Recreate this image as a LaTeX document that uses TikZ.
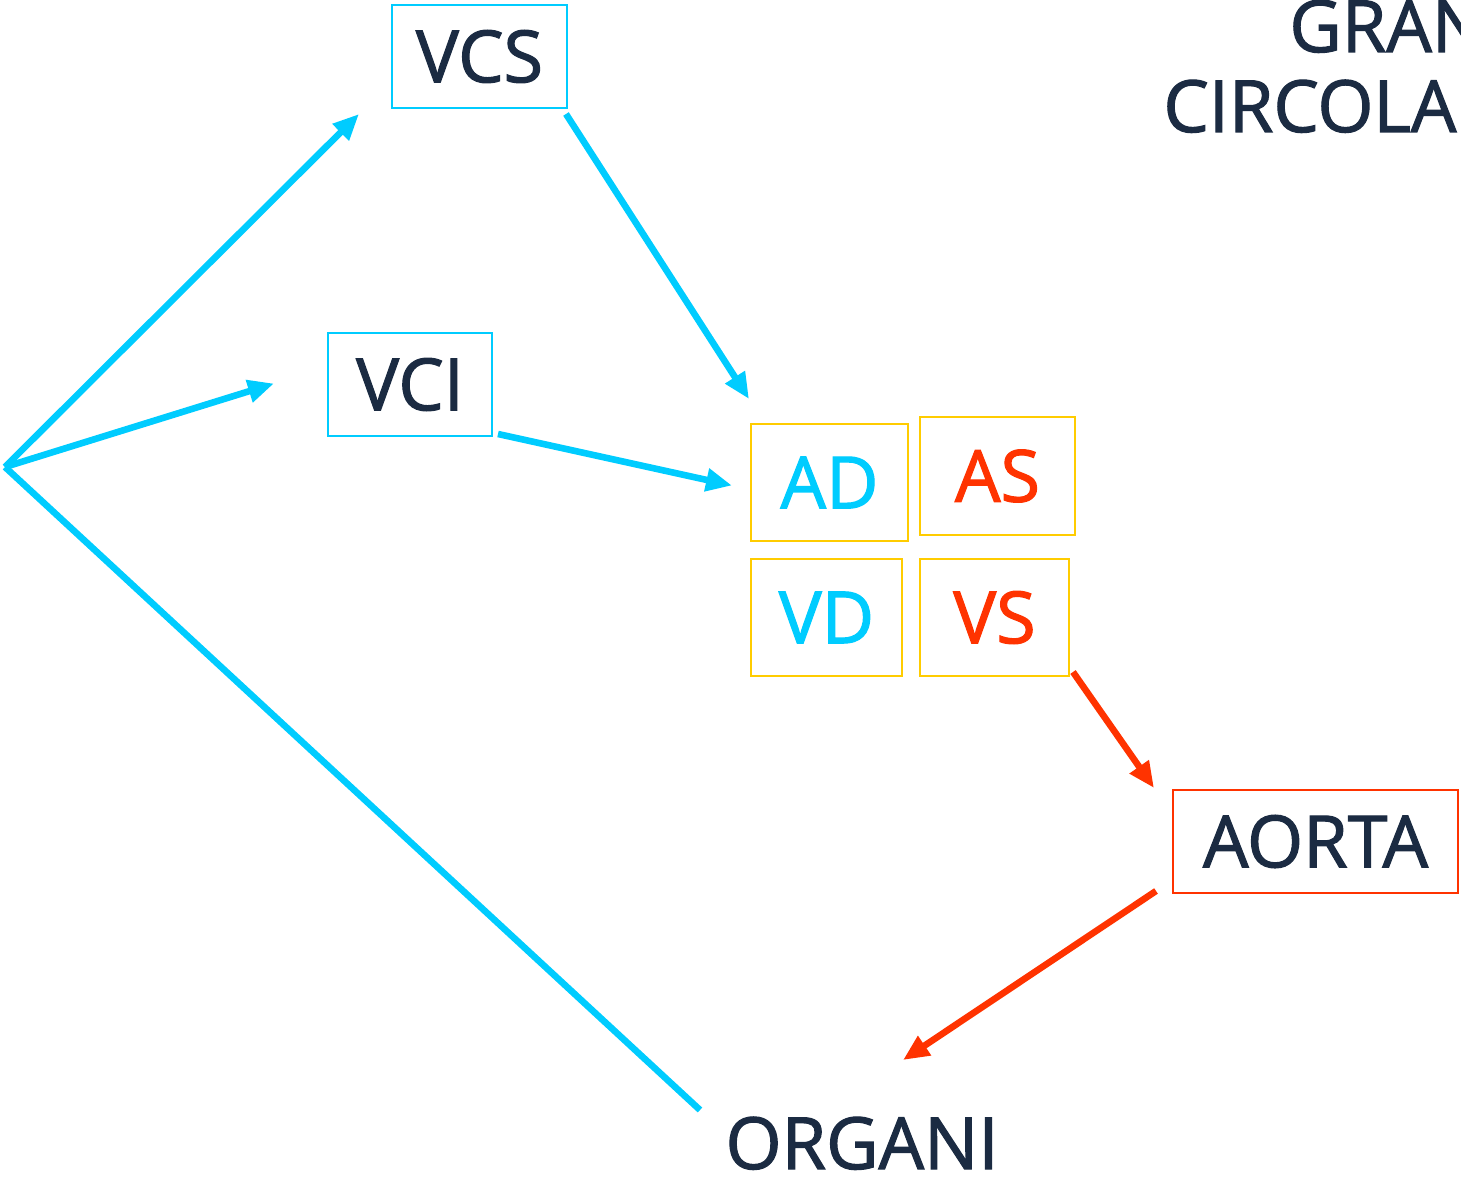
\documentclass[tikz,border=0pt]{standalone}
\usepackage{fontspec}
\setmainfont{Open Sans}[FakeBold=1.6,AutoFakeBold=1.6]
\usetikzlibrary{arrows.meta,calc}
\definecolor{cyanb}{HTML}{00CCFF}
\definecolor{redo}{HTML}{FF3300}
\definecolor{goldb}{HTML}{FFCC00}
\definecolor{navy}{HTML}{1B2B42}
\tikzset{
  lbl/.style={font=\fontsize{36}{40}\selectfont, text=navy, inner sep=0pt},
  boxed/.style={lbl, draw=#1, line width=1pt},
  bflow/.style={draw=cyanb, line width=3.3pt, -{Triangle[length=13pt,width=11pt]}},
  rflow/.style={draw=redo, line width=3.3pt, -{Triangle[length=13pt,width=11pt]}},
}
\begin{document}
\begin{tikzpicture}[x=0.5pt,y=-0.5pt]
\useasboundingbox (0,0) rectangle (1461,1177);
\clip (0,0) rectangle (1461,1177);
\node[boxed=cyanb, minimum width=87.5pt, minimum height=51.5pt] (vcs) at (479.5,56.5) {VCS};
\node[boxed=cyanb, minimum width=82pt, minimum height=51.5pt] (vci) at (410,384.5) {VCI};
\node[boxed=goldb, text=cyanb, minimum width=78.5pt, minimum height=58.5pt] (ad) at (829.5,482.5) {AD};
\node[boxed=goldb, text=redo, minimum width=77.5pt, minimum height=59pt] (as) at (997.5,476) {AS};
\node[boxed=goldb, text=cyanb, minimum width=75.5pt, minimum height=58.5pt] (vd) at (826.5,617.5) {VD};
\node[boxed=goldb, text=redo, minimum width=74.5pt, minimum height=58.5pt] (vs) at (994.5,617.5) {VS};
\node[boxed=redo, minimum width=142.5pt, minimum height=51.5pt] (aorta) at (1315.5,841.5) {AORTA};
\node[lbl, anchor=base] (organi) at (862,1169) {ORGANI};
\node[lbl, anchor=base west] (gran) at (1289,52) {GRAN};
\node[lbl, anchor=base west] (circ) at (1163,132) {CIRCOLA};
\coordinate (hub) at (5,467);
\draw[bflow] (hub) -- ($(vcs.south west)+(-32,5)$);
\draw[bflow] (hub) -- ($(vci.west)+(-53,-1)$);
\draw[draw=cyanb, line width=3.3pt] ($(organi.base)+(-162,-59)$) -- (hub);
\draw[bflow] ($(vcs.south east)+(-2,5)$) -- ($(ad.north west)+(-1,-24)$);
\draw[bflow] ($(vci.south east)+(5,-3)$) -- ($(ad.west)+(-18,3)$);
\draw[rflow] ($(vs.south east)+(3,-5)$) -- ($(aorta.north west)+(-18,-1)$);
\draw[rflow] ($(aorta.south west)+(-16,-3)$) -- ($(organi.base)+(41,-109)$);
\end{tikzpicture}
\end{document}
